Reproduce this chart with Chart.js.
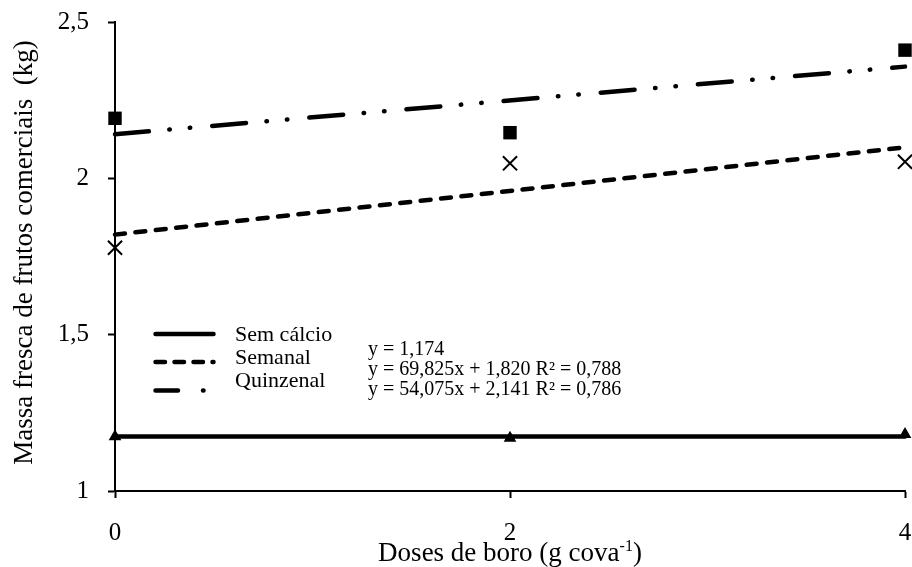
<!DOCTYPE html>
<html>
<head>
<meta charset="utf-8">
<script src="https://cdn.jsdelivr.net/npm/chart.js@4.4.1/dist/chart.umd.min.js"></script>
<style>
  html, body { margin: 0; padding: 0; background: #fff; }
  canvas { display: block; }
</style>
</head>
<body>
<canvas id="chart" width="912" height="567"></canvas>
<script>
// Boron doses (g per planting hole)
const doses = [0, 2, 4];

// Marketable fruit fresh mass (kg) per calcium treatment
const semCalcio = [1.174, 1.169, 1.181];
const semanal   = [1.778, 2.048, 2.053];
const quinzenal = [2.192, 2.146, 2.410];

const seriesNames = ['Sem cálcio', 'Semanal', 'Quinzenal'];

// Fitted regressions (x expressed in kg, so a dose in g is divided by 1000)
const trendIntercept = [1.174, 1.820, 2.141];
const trendSlope     = [0, 69.825, 54.075];
const equationLabels = [
  'y = 1,174',
  'y = 69,825x + 1,820 R² = 0,788',
  'y = 54,075x + 2,141 R² = 0,786'
];

const xTicks = [0, 2, 4];
const yTicks = [1, 1.5, 2, 2.5];

const xTitle = 'Doses de boro (g cova';
const xTitleSup = '-1';
const xTitleEnd = ')';
const yTitle = 'Massa fresca de frutos comerciais  (kg)';

const serif = "'Liberation Serif', 'Times New Roman', serif";

// Line patterns for the three treatments
const lineDash = [[], [10, 10.5], [34, 20.5, 0.5, 20, 0.5, 22]];
const legendDash = [[], [9.5, 9.5], [22.5, 25, 0.5, 100]];
const lineWidth = 4.5;

const toPoints = vals => doses.map((d, i) => ({ x: d, y: vals[i] }));
const trendPoints = k => [doses[0], doses[doses.length - 1]].map(d => ({
  x: d,
  y: trendIntercept[k] + trendSlope[k] * d / 1000
}));

const fmt = v => String(v).replace('.', ',');

// Keep the plot area fixed: no extra room reserved for edge tick labels
const noEdgePadding = s => {
  s.paddingLeft = 0; s.paddingRight = 0; s.paddingTop = 0; s.paddingBottom = 0;
};

// Legend with regression equations, plus axis titles (superscript unit)
const annotations = {
  id: 'annotations',
  afterDraw(chart) {
    const ctx = chart.ctx;
    const area = chart.chartArea;
    ctx.save();
    ctx.fillStyle = '#000';
    ctx.strokeStyle = '#000';

    // x axis title
    ctx.textBaseline = 'alphabetic';
    ctx.textAlign = 'left';
    ctx.font = `27px ${serif}`;
    const w1 = ctx.measureText(xTitle).width;
    const w3 = ctx.measureText(xTitleEnd).width;
    ctx.font = `16px ${serif}`;
    const w2 = ctx.measureText(xTitleSup).width;
    const cx = (area.left + area.right) / 2;
    const x0 = cx - (w1 + w2 + w3) / 2;
    const base = 561;
    ctx.font = `27px ${serif}`;
    ctx.fillText(xTitle, x0, base);
    ctx.font = `16px ${serif}`;
    ctx.fillText(xTitleSup, x0 + w1, base - 10);
    ctx.font = `27px ${serif}`;
    ctx.fillText(xTitleEnd, x0 + w1 + w2, base);

    // y axis title
    ctx.save();
    ctx.translate(32, (area.top + area.bottom) / 2 - 4);
    ctx.rotate(-Math.PI / 2);
    ctx.textAlign = 'center';
    ctx.font = `27px ${serif}`;
    ctx.fillText(yTitle, 0, 0);
    ctx.restore();

    // legend samples and names
    const lineYs = [334, 362, 390.5];
    const textYs = [341, 364, 387];
    ctx.lineCap = 'round';
    ctx.lineWidth = lineWidth;
    seriesNames.forEach((name, k) => {
      ctx.setLineDash(legendDash[k]);
      ctx.beginPath();
      ctx.moveTo(155.5, lineYs[k]);
      ctx.lineTo(213.5, lineYs[k]);
      ctx.stroke();
      ctx.setLineDash([]);
      ctx.font = `22px ${serif}`;
      ctx.textAlign = 'left';
      ctx.fillText(name, 235, textYs[k]);
    });

    // regression equations
    const eqYs = [355, 375, 395];
    ctx.font = `20px ${serif}`;
    equationLabels.forEach((t, k) => ctx.fillText(t, 368, eqYs[k]));
    ctx.restore();
  }
};

const datasets = [
  {
    label: seriesNames[2], data: toPoints(quinzenal), showLine: false, clip: false,
    pointStyle: 'rect', pointRadius: 9.5, pointHoverRadius: 9.5,
    backgroundColor: '#000', borderColor: '#000', borderWidth: 0
  },
  {
    label: seriesNames[1], data: toPoints(semanal), showLine: false, clip: false,
    pointStyle: 'crossRot', pointRadius: 10, pointHoverRadius: 10,
    backgroundColor: '#000', borderColor: '#000', pointBorderWidth: 2
  },
  {
    label: seriesNames[0], data: toPoints(semCalcio), showLine: false, clip: false,
    pointStyle: 'triangle', pointRadius: 7.3, pointHoverRadius: 7.3,
    backgroundColor: '#000', borderColor: '#000', borderWidth: 0
  }
];
[0, 1, 2].forEach(k => datasets.push({
  label: seriesNames[k] + ' (ajuste)',
  data: trendPoints(k),
  showLine: true,
  clip: false,
  pointRadius: 0,
  pointHoverRadius: 0,
  borderColor: '#000',
  borderWidth: lineWidth,
  borderDash: lineDash[k],
  borderCapStyle: 'round',
  fill: false
}));

new Chart(document.getElementById('chart'), {
  type: 'scatter',
  data: { datasets },
  options: {
    responsive: false,
    animation: false,
    devicePixelRatio: 1,
    layout: { autoPadding: false, padding: { top: 22, right: 7, left: 0, bottom: 0 } },
    plugins: {
      legend: { display: false },
      tooltip: { enabled: false }
    },
    scales: {
      x: {
        type: 'linear',
        min: 0,
        max: 4,
        afterBuildTicks: s => { s.ticks = xTicks.map(v => ({ value: v })); },
        afterFit: s => { s.height = 76; noEdgePadding(s); },
        grid: {
          display: true, drawOnChartArea: false, drawTicks: true,
          tickLength: 7, tickWidth: 2, tickColor: '#000'
        },
        border: { display: true, color: '#000', width: 2 },
        ticks: {
          color: '#000', padding: 20, maxRotation: 0,
          font: { family: serif, size: 25 },
          callback: v => fmt(v)
        }
      },
      y: {
        type: 'linear',
        min: 1,
        max: 2.5,
        afterBuildTicks: s => { s.ticks = yTicks.map(v => ({ value: v })); },
        afterFit: s => { s.width = 115; noEdgePadding(s); },
        grid: {
          display: true, drawOnChartArea: false, drawTicks: true,
          tickLength: 7, tickWidth: 2, tickColor: '#000'
        },
        border: { display: true, color: '#000', width: 2 },
        ticks: {
          color: '#000', padding: 19,
          font: { family: serif, size: 25 },
          callback: v => fmt(v)
        }
      }
    }
  },
  plugins: [annotations]
});
</script>
</body>
</html>
